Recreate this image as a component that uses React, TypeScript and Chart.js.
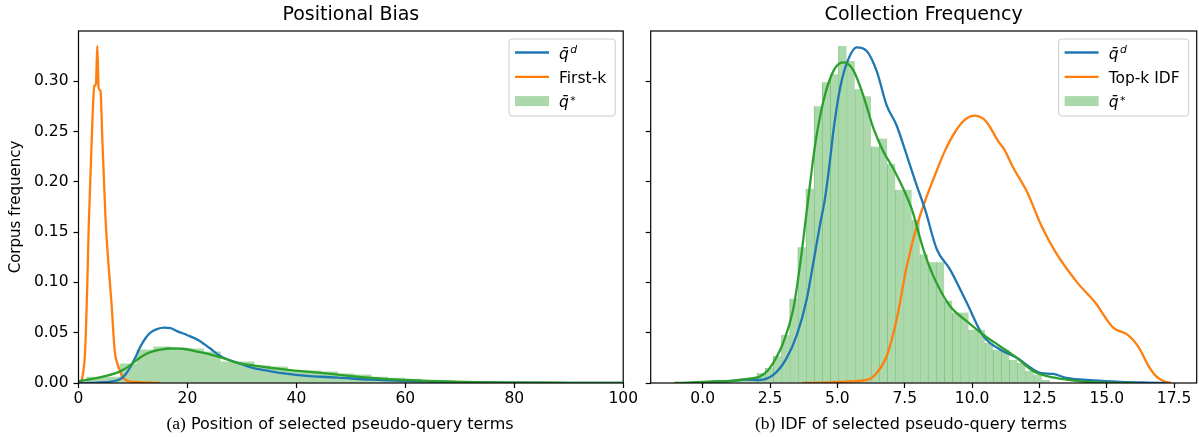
import React, { useEffect, useRef } from 'react';
import { Chart, registerables } from 'chart.js';
Chart.register(...registerables);

// ---------- Left panel: Positional Bias ----------
const LEFT_HIST_CENTERS = [3.04, 6.11, 9.18, 12.25, 15.32, 18.39, 21.46, 24.53, 27.60, 30.67, 33.74, 36.81, 39.88, 42.95, 46.02, 49.09, 52.16, 55.23, 58.30, 61.37, 64.44, 67.51, 70.58, 73.65, 76.72, 79.79, 82.86, 85.93, 89.00, 92.07, 95.14, 98.21];
const LEFT_HIST_VALUES = [0.006, 0.006, 0.019, 0.033, 0.036, 0.035, 0.034, 0.031, 0.021, 0.021, 0.017, 0.016, 0.012, 0.012, 0.011, 0.009, 0.008, 0.006, 0.005, 0.004, 0.003, 0.0025, 0.002, 0.0015, 0.001, 0.001, 0.0008, 0.0006, 0.0005, 0.0004, 0.0003, 0.0003];

const LEFT_QD_X = [0, 3, 5, 7, 7.7, 8.7, 9.6, 10.5, 11.4, 12.3, 13.2, 14.4, 15.7, 16.9, 18.1, 20, 21.8, 24, 26.1, 29.2, 32, 35.3, 38.5, 41.4, 44.5, 47.6, 53.7, 60, 70, 80, 90, 100];
const LEFT_QD_Y = [0, 0.0002, 0.0008, 0.0025, 0.004, 0.009, 0.0166, 0.026, 0.0366, 0.0445, 0.05, 0.0535, 0.055, 0.0545, 0.0516, 0.0475, 0.0433, 0.035, 0.0266, 0.02, 0.015, 0.0116, 0.009, 0.0073, 0.0062, 0.0053, 0.0033, 0.002, 0.0008, 0.0003, 0.0001, 0];

const LEFT_FIRSTK_X = [0.5, 0.9, 1.2, 1.6, 1.9, 2.35, 2.9, 3.2, 3.45, 3.7, 4.05, 4.35, 4.95, 5.5, 6.05, 6.65, 7.2, 7.6, 8.2, 9.1, 10.5, 12.5, 15];
const LEFT_FIRSTK_Y = [0, 0.012, 0.03, 0.095, 0.16, 0.23, 0.295, 0.297, 0.335, 0.293, 0.29, 0.246, 0.165, 0.118, 0.08, 0.032, 0.018, 0.0125, 0.005, 0.002, 0.001, 0.0006, 0];

const LEFT_QSTAR_X = [0, 2, 4.65, 7.7, 9.2, 10.8, 12.3, 13.8, 15.3, 16.9, 18.5, 20, 22, 24.3, 26.7, 29.2, 32, 35.3, 38.5, 41.4, 44.5, 47.6, 50.6, 53.7, 57, 60, 65, 70, 80, 90, 100];
const LEFT_QSTAR_Y = [0.0017, 0.0035, 0.0066, 0.0116, 0.0165, 0.0233, 0.0285, 0.0316, 0.0335, 0.0343, 0.0342, 0.0333, 0.031, 0.0283, 0.0245, 0.02, 0.0175, 0.015, 0.013, 0.0116, 0.01, 0.0083, 0.0066, 0.005, 0.0038, 0.003, 0.0018, 0.001, 0.0004, 0.0002, 0.0001];

const LEFT_X_TICKS = [0, 20, 40, 60, 80, 100];

// ---------- Right panel: Collection Frequency ----------
const RIGHT_HIST_CENTERS = [0.661, 0.963, 1.265, 1.567, 1.869, 2.171, 2.473, 2.775, 3.077, 3.379, 3.681, 3.983, 4.285, 4.587, 4.889, 5.191, 5.493, 5.795, 6.097, 6.399, 6.701, 7.003, 7.305, 7.607, 7.909, 8.211, 8.513, 8.815, 9.117, 9.419, 9.721, 10.023, 10.325, 10.627, 10.929, 11.231, 11.533, 11.835, 12.137, 12.439, 12.741];
const RIGHT_HIST_VALUES = [0.002, 0.002, 0.003, 0.004, 0.005, 0.010, 0.015, 0.027, 0.048, 0.084, 0.135, 0.193, 0.275, 0.299, 0.307, 0.335, 0.320, 0.292, 0.285, 0.235, 0.243, 0.218, 0.192, 0.192, 0.162, 0.128, 0.120, 0.120, 0.082, 0.070, 0.070, 0.053, 0.053, 0.040, 0.033, 0.033, 0.023, 0.020, 0.012, 0.008, 0.003];

const RIGHT_QD_X = [-0.6, 0, 0.5, 1.0, 1.6, 2.1, 2.62, 3.1, 3.5, 3.86, 4.11, 4.36, 4.55, 4.73, 4.85, 5.1, 5.35, 5.72, 6.09, 6.46, 6.83, 7.2, 7.58, 7.95, 8.25, 8.69, 9.18, 9.8, 10.42, 11.04, 11.66, 12.28, 12.53, 13.02, 13.5, 14.5, 15.5, 16.5, 17.2];
const RIGHT_QD_Y = [0, 0.0006, 0.0015, 0.0018, 0.0035, 0.003, 0.008, 0.024, 0.048, 0.083, 0.12, 0.158, 0.185, 0.222, 0.25, 0.293, 0.318, 0.3337, 0.33, 0.31, 0.276, 0.256, 0.226, 0.196, 0.173, 0.133, 0.113, 0.08, 0.0466, 0.0333, 0.025, 0.0133, 0.01, 0.009, 0.005, 0.0026, 0.0012, 0.0004, 0];

const RIGHT_TOPK_X = [3.7, 4.5, 5.47, 6.09, 6.46, 6.83, 7.2, 7.58, 7.95, 8.31, 8.6, 8.98, 9.38, 9.75, 10.11, 10.4, 10.58, 10.98, 11.2, 11.51, 12.04, 12.57, 13.1, 13.9, 14.57, 15.24, 15.77, 16.16, 16.56, 16.84, 17.1, 17.4];
const RIGHT_TOPK_Y = [0, 0.0003, 0.0016, 0.003, 0.01, 0.0266, 0.063, 0.1165, 0.156, 0.185, 0.205, 0.23, 0.25, 0.262, 0.2657, 0.263, 0.258, 0.24, 0.232, 0.215, 0.19, 0.1565, 0.13, 0.1, 0.08, 0.055, 0.048, 0.0366, 0.0166, 0.0066, 0.002, 0];

const RIGHT_QSTAR_X = [-1.05, -0.5, 0, 0.5, 1.0, 1.38, 1.8, 2.13, 2.4, 2.62, 2.99, 3.36, 3.61, 3.86, 4.17, 4.48, 4.85, 5.22, 5.59, 5.96, 6.34, 6.71, 7.08, 7.45, 7.76, 8.19, 8.56, 9.18, 9.8, 10.42, 11.04, 11.66, 12.28, 12.9, 13.52, 14.26, 15.0, 16.0];
const RIGHT_QSTAR_Y = [0, 0.0004, 0.001, 0.0015, 0.002, 0.003, 0.0045, 0.0066, 0.012, 0.02, 0.04, 0.073, 0.1165, 0.17, 0.236, 0.28, 0.31, 0.3187, 0.311, 0.286, 0.253, 0.23, 0.213, 0.193, 0.173, 0.133, 0.1065, 0.0765, 0.0615, 0.048, 0.0366, 0.025, 0.0116, 0.006, 0.0033, 0.001, 0.0003, 0];

const Y_MAX = 0.3499;

// ---------- styles ----------
const BLUE = '#1f77b4';
const ORANGE = '#ff7f0e';
const GREEN = '#2ca02c';
const HIST_FILL = 'rgb(171,217,171)';
const HIST_EDGE = 'rgb(128,198,128)';
const FONT = '"DejaVu Sans"';
const FS = 15.5;

function pts(xs: number[], ys: number[]) {
  return xs.map((x, i) => ({ x, y: ys[i] }));
}

type Entry = { kind: 'line' | 'patch'; color: string; text?: string; base?: string; sup?: string; supRaise?: number };

const framePlugin = {
  id: 'mplFrame',
  afterDraw(chart: any, _args: any, opts: any) {
    const { ctx, chartArea: ca } = chart;
    ctx.save();
    ctx.strokeStyle = '#000';
    ctx.lineWidth = 1.2;
    ctx.strokeRect(ca.left, ca.top, ca.right - ca.left, ca.bottom - ca.top);

    const entries: Entry[] = opts.entries || [];
    const fontR = `${FS}px ${FONT}`;
    const fontI = `italic ${FS}px ${FONT}`;
    const fontS = `italic ${FS * 0.7}px ${FONT}`;
    const widths = entries.map((e) => {
      if (e.base) {
        ctx.font = fontI;
        const w1 = ctx.measureText(e.base).width;
        ctx.font = fontS;
        return w1 + 1.5 + ctx.measureText(e.sup || '').width;
      }
      ctx.font = fontR;
      return ctx.measureText(e.text || '').width;
    });
    const maxW = Math.max(...widths);
    const padL = 6, handle = 34, gap = 10, padR = 9, boxH = 77, rowH = 24.3, firstRow = 13.5;
    const boxW = padL + handle + gap + maxW + padR;
    const x0 = ca.right - 8 - boxW;
    const y0 = ca.top + 8;
    ctx.beginPath();
    if ((ctx as any).roundRect) (ctx as any).roundRect(x0, y0, boxW, boxH, 3);
    else ctx.rect(x0, y0, boxW, boxH);
    ctx.fillStyle = 'rgba(255,255,255,0.8)';
    ctx.fill();
    ctx.strokeStyle = '#cccccc';
    ctx.lineWidth = 1;
    ctx.stroke();

    entries.forEach((e, i) => {
      const cy = y0 + firstRow + i * rowH;
      if (e.kind === 'line') {
        ctx.strokeStyle = e.color;
        ctx.lineWidth = 2.3;
        ctx.beginPath();
        ctx.moveTo(x0 + padL, cy);
        ctx.lineTo(x0 + padL + handle, cy);
        ctx.stroke();
      } else {
        ctx.fillStyle = e.color;
        ctx.fillRect(x0 + padL, cy - 5, handle, 10);
      }
      const tx = x0 + padL + handle + gap;
      const baseY = cy + 6;
      ctx.fillStyle = '#000';
      ctx.textBaseline = 'alphabetic';
      ctx.textAlign = 'left';
      if (e.base) {
        ctx.font = fontI;
        ctx.fillText(e.base, tx, baseY);
        const w1 = ctx.measureText(e.base).width;
        ctx.font = fontS;
        ctx.fillText(e.sup || '', tx + w1 + 1.5, baseY - FS * (e.supRaise ?? 0.33));
      } else {
        ctx.font = fontR;
        ctx.fillText(e.text || '', tx, baseY);
      }
    });
    ctx.restore();
  },
};

function makeConfig(p: {
  title: string;
  hist: { x: number; y: number }[];
  histEdges: boolean;
  lines: { data: { x: number; y: number }[]; color: string; order: number }[];
  xMin: number;
  xMax: number;
  xStep: number;
  xFmt: (v: number) => string;
  yLabels: boolean;
  yWidth: number;
  padRight: number;
  entries: Entry[];
}): any {
  return {
    type: 'line',
    data: {
      datasets: [
        {
          type: 'bar',
          data: p.hist,
          backgroundColor: HIST_FILL,
          borderColor: HIST_EDGE,
          borderWidth: p.histEdges ? { left: 1, right: 0, top: 0, bottom: 0 } : 0,
          barPercentage: 1,
          categoryPercentage: 1,
          order: 10,
        },
        ...p.lines.map((l) => ({
          type: 'line',
          data: l.data,
          borderColor: l.color,
          borderWidth: 2.3,
          pointRadius: 0,
          fill: false,
          cubicInterpolationMode: 'monotone',
          order: l.order,
        })),
      ],
    },
    options: {
      responsive: false,
      animation: false,
      events: [],
      devicePixelRatio: 1,
      layout: { padding: { left: 0, right: p.padRight, top: 0, bottom: 0 } },
      plugins: {
        legend: { display: false },
        tooltip: { enabled: false },
        title: {
          display: true,
          text: p.title,
          fullSize: false,
          color: '#000',
          font: { family: FONT, size: 19, weight: 'normal' },
          padding: { top: 4, bottom: 4.2 },
        },
        mplFrame: { entries: p.entries },
      },
      scales: {
        x: {
          type: 'linear',
          min: p.xMin,
          max: p.xMax,
          offset: false,
          ticks: {
            stepSize: p.xStep,
            autoSkip: false,
            maxRotation: 0,
            includeBounds: false,
            padding: 2,
            color: '#000',
            font: { family: FONT, size: FS },
            callback: (v: number) => p.xFmt(v),
          },
          grid: {
            display: true,
            drawOnChartArea: false,
            drawTicks: true,
            tickLength: 5,
            tickWidth: 1.2,
            tickColor: '#000',
            offset: false,
          },
          border: { display: false },
          afterFit: (s: any) => {
            s.height = 54;
          },
        },
        y: {
          type: 'linear',
          min: 0,
          max: Y_MAX,
          ticks: {
            stepSize: 0.05,
            includeBounds: false,
            padding: 5,
            color: '#000',
            font: { family: FONT, size: FS },
            callback: (v: number) => (p.yLabels ? v.toFixed(2) : ''),
          },
          grid: {
            display: true,
            drawOnChartArea: false,
            drawTicks: true,
            tickLength: 5,
            tickWidth: 1.2,
            tickColor: '#000',
          },
          border: { display: false },
          title: {
            display: p.yLabels,
            text: 'Corpus frequency',
            color: '#000',
            font: { family: FONT, size: 15 },
            padding: { top: 7, bottom: 0 },
          },
          afterFit: (s: any) => {
            s.width = p.yWidth;
          },
        },
      },
    },
    plugins: [framePlugin],
  };
}

function ChartCanvas({ config, width, height, left }: { config: any; width: number; height: number; left: number }) {
  const ref = useRef<HTMLCanvasElement>(null);
  useEffect(() => {
    if (!ref.current) return;
    const chart = new Chart(ref.current, config);
    return () => chart.destroy();
  }, []);
  return (
    <canvas
      ref={ref}
      width={width}
      height={height}
      style={{ position: 'absolute', left, top: 0, width, height }}
    />
  );
}

export default function App() {
  const leftConfig = makeConfig({
    title: 'Positional Bias',
    hist: pts(LEFT_HIST_CENTERS, LEFT_HIST_VALUES),
    histEdges: false,
    lines: [
      { data: pts(LEFT_FIRSTK_X, LEFT_FIRSTK_Y), color: ORANGE, order: 2 },
      { data: pts(LEFT_QD_X, LEFT_QD_Y), color: BLUE, order: 1 },
      { data: pts(LEFT_QSTAR_X, LEFT_QSTAR_Y), color: GREEN, order: 0 },
    ],
    xMin: LEFT_X_TICKS[0],
    xMax: LEFT_X_TICKS[LEFT_X_TICKS.length - 1],
    xStep: LEFT_X_TICKS[1] - LEFT_X_TICKS[0],
    xFmt: (v) => String(v),
    yLabels: true,
    yWidth: 78.5,
    padRight: 15.5,
    entries: [
      { kind: 'line', color: BLUE, base: 'q\u0304', sup: 'd' },
      { kind: 'line', color: ORANGE, text: 'First-k' },
      { kind: 'patch', color: HIST_FILL, base: 'q\u0304', sup: '*', supRaise: 0.22 },
    ],
  });

  const rightConfig = makeConfig({
    title: 'Collection Frequency',
    hist: pts(RIGHT_HIST_CENTERS, RIGHT_HIST_VALUES),
    histEdges: true,
    lines: [
      { data: pts(RIGHT_TOPK_X, RIGHT_TOPK_Y), color: ORANGE, order: 2 },
      { data: pts(RIGHT_QD_X, RIGHT_QD_Y), color: BLUE, order: 1 },
      { data: pts(RIGHT_QSTAR_X, RIGHT_QSTAR_Y), color: GREEN, order: 0 },
    ],
    xMin: -1.93,
    xMax: 18.34,
    xStep: 2.5,
    xFmt: (v) => v.toFixed(1),
    yLabels: false,
    yWidth: 10.7,
    padRight: 2.3,
    entries: [
      { kind: 'line', color: BLUE, base: 'q\u0304', sup: 'd' },
      { kind: 'line', color: ORANGE, text: 'Top-k IDF' },
      { kind: 'patch', color: HIST_FILL, base: 'q\u0304', sup: '*', supRaise: 0.22 },
    ],
  });

  const captionStyle: React.CSSProperties = {
    position: 'absolute',
    top: 412,
    width: 500,
    textAlign: 'center',
    fontFamily: FONT,
    fontSize: 16,
    lineHeight: '22px',
    whiteSpace: 'nowrap',
    color: '#000',
  };
  const serif: React.CSSProperties = { fontFamily: '"Liberation Serif"', fontSize: 17.5 };

  return (
    <div style={{ position: 'fixed', left: 0, top: 0, width: 1199, height: 437, background: '#fff', overflow: 'hidden' }}>
      <ChartCanvas config={leftConfig} width={640} height={437} left={0} />
      <ChartCanvas config={rightConfig} width={559} height={437} left={640} />
      <div style={{ ...captionStyle, left: 90 }}>
        <span style={serif}>(a)</span> Position of selected pseudo-query terms
      </div>
      <div style={{ ...captionStyle, left: 661 }}>
        <span style={serif}>(b)</span> IDF of selected pseudo-query terms
      </div>
    </div>
  );
}
